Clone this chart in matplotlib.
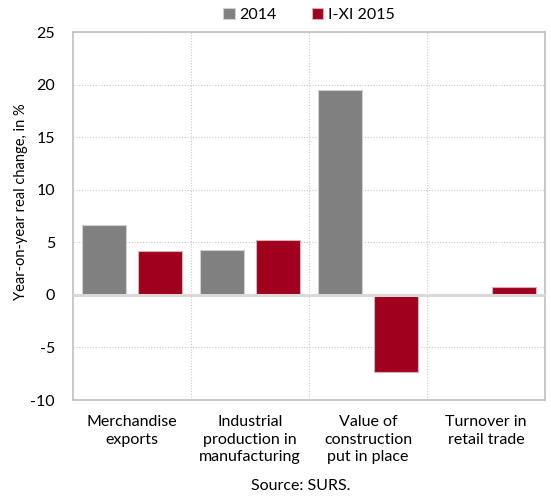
import numpy as np
import matplotlib.pyplot as plt

categories = ["Merchandise\nexports", "Industrial\nproduction in\nmanufacturing",
              "Value of\nconstruction\nput in place", "Turnover in\nretail trade"]
y2014 = [6.6, 4.3, 19.5, 0.0]
y2015 = [4.2, 5.2, -7.3, 0.7]
series_names = ["2014", "I-XI 2015"]
colors = ["#808080", "#a0001e"]

plt.rcParams["font.family"] = ["Lato", "DejaVu Sans"]
plt.rcParams["axes.unicode_minus"] = False

fig = plt.figure(figsize=(5.51, 5.0), dpi=100)
ax = fig.add_axes([73/551, 1-400/500, 472/551, 368/500])

x = np.arange(len(categories))
w = 0.373
ax.bar(x - 0.237, y2014, w, color=colors[0], edgecolor="#d0d0d0", linewidth=0.8,
       label=series_names[0], zorder=3)
ax.bar(x + 0.237, y2015, w, color=colors[1], edgecolor="#d8b0b8", linewidth=0.8,
       label=series_names[1], zorder=3)

fs = 11.5
ax.set_xlim(-0.5, len(categories) - 0.5)
ax.set_ylim(-10, 25)
ax.set_yticks(range(-10, 26, 5))
ax.set_xticks(x)
ax.set_xticklabels(categories, linespacing=1.3)
ax.set_xticks(np.arange(0.5, len(categories) - 0.5, 1), minor=True)
ax.tick_params(axis="both", length=0, labelsize=fs)
ax.tick_params(axis="y", pad=13)
ax.tick_params(axis="x", which="minor", length=0)
ax.tick_params(axis="x", pad=11)

ax.grid(axis="y", which="major", linestyle=(0, (1, 1.5)), color="#c8c8c8", linewidth=0.8, zorder=0)
ax.grid(axis="x", which="minor", linestyle=(0, (1, 1.5)), color="#c8c8c8", linewidth=0.8, zorder=0)
ax.axhline(0, color="#d9d9d9", linewidth=2.2, zorder=4)

for s in ax.spines.values():
    s.set_color("#bfbfbf")
    s.set_linewidth(1.2)

ax.set_ylabel("Year-on-year real change, in %", fontsize=10.5)
ax.yaxis.set_label_coords(-0.095, 0.54)

ax.legend(loc="lower center", bbox_to_anchor=(0.5, 1.0), ncol=2, frameon=False,
          fontsize=fs, handlelength=0.7, handleheight=0.7, handletextpad=0.3,
          columnspacing=2.2, borderaxespad=0.2)

fig.text(0.545, 0.02, "Source: SURS.", ha="center", fontsize=fs)

fig.savefig("out.png", dpi=100)
